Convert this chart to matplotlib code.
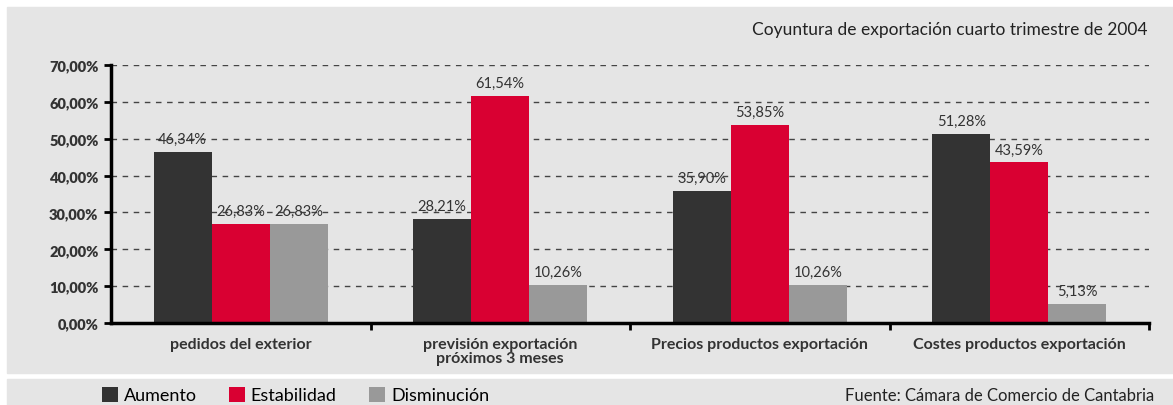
import matplotlib.pyplot as plt
import numpy as np
from matplotlib.patches import Rectangle, Patch
from matplotlib.ticker import FuncFormatter

plt.rcParams['font.family'] = ['Lato', 'DejaVu Sans']

# Datos
categorias = ['pedidos del exterior', 'previsión exportación\npróximos 3 meses',
              'Precios productos exportación', 'Costes productos exportación']
series = ['Aumento', 'Estabilidad', 'Disminución']
aumento = [46.34, 28.21, 35.90, 51.28]
estabilidad = [26.83, 61.54, 53.85, 43.59]
disminucion = [26.83, 10.26, 10.26, 5.13]
colores = ['#333333', '#d90032', '#999999']

W, H = 1173, 406
fig = plt.figure(figsize=(W / 100, H / 100), dpi=100)
fig.patch.set_facecolor('white')

# paneles grises de fondo
fig.patches.append(Rectangle((7 / W, 1 - 374 / H), 1 - 7 / W, (374 - 8) / H,
                             transform=fig.transFigure, color='#e5e5e5', zorder=-10))
fig.patches.append(Rectangle((7 / W, 0), 1 - 7 / W, (406 - 380) / H,
                             transform=fig.transFigure, color='#e5e5e5', zorder=-10))

ax = fig.add_axes([111 / W, 1 - 324 / H, (1149 - 111) / W, (324 - 66) / H])
ax.set_facecolor('none')

x = np.arange(len(categorias))
ancho = 0.2236
for i, (vals, col) in enumerate(zip([aumento, estabilidad, disminucion], colores)):
    pos = x + (i - 1) * ancho
    ax.bar(pos, vals, ancho, color=col, zorder=3)
    for p, v in zip(pos, vals):
        ax.text(p, v + 1.6, f'{v:.2f}%'.replace('.', ','), ha='center', va='bottom',
                fontsize=10.5, color='#333333', zorder=4)

ax.set_xlim(-0.5, len(categorias) - 0.5)
ax.set_ylim(0, 70)
ax.set_yticks(np.arange(0, 71, 10))
ax.yaxis.set_major_formatter(FuncFormatter(lambda v, _: f'{v:.2f}%'.replace('.', ',')))
ax.set_xticks(x)
ax.set_xticklabels(categorias, fontweight='bold', fontsize=11.5, color='#333333', linespacing=1.0)
ax.set_xticks(np.arange(0.5, len(categorias), 1), minor=True)
ax.tick_params(axis='x', which='major', length=0, pad=10)
ax.tick_params(axis='x', which='minor', length=5, width=2, direction='out')
ax.tick_params(axis='y', length=5, width=2, direction='out', pad=4, labelsize=10.5)
for lab in ax.get_yticklabels():
    lab.set_fontweight('heavy')
    lab.set_color('#333333')

ax.grid(axis='y', linestyle=(0, (4, 4)), color='#444444', linewidth=1, zorder=1)
for s in ['top', 'right']:
    ax.spines[s].set_visible(False)
ax.spines['left'].set_linewidth(2.5)
ax.spines['bottom'].set_linewidth(2.5)
ax.spines['left'].set_zorder(5)
ax.spines['bottom'].set_zorder(5)

fig.text(1148 / W, 1 - 30 / H, 'Coyuntura de exportación cuarto trimestre de 2004',
         ha='right', va='center', fontsize=12.5, color='#222222')
fig.text(1154 / W, 1 - 396 / H, 'Fuente: Cámara de Comercio de Cantabria',
         ha='right', va='center', fontsize=12, color='#222222')

handles = [Patch(facecolor=c, edgecolor='none') for c in colores]
fig.legend(handles, series, loc='center left', bbox_to_anchor=(102 / W, 1 - 396 / H),
           ncol=3, frameon=False, fontsize=13, handlelength=0.9, handleheight=0.9,
           handletextpad=0.3, columnspacing=1.8, borderaxespad=0, borderpad=0)

fig.savefig('out.png', dpi=100)
